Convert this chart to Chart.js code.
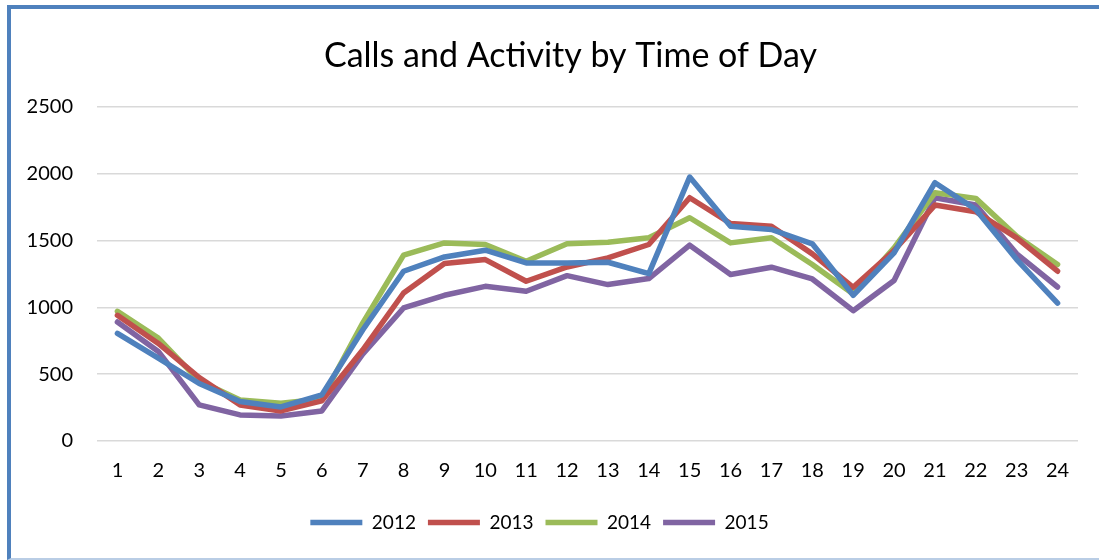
<!DOCTYPE html>
<html>
<head>
<meta charset="utf-8">
<script src="https://cdn.jsdelivr.net/npm/chart.js@4.4.1/dist/chart.umd.min.js"></script>
<style>
	html, body { margin: 0; padding: 0; background: #fff; }
	#wrap { position: relative; width: 1099px; height: 560px; overflow: hidden; }
	#frame {
		position: absolute; left: 7px; top: 5px; width: 1100px; height: 549px;
		border-left: 4px solid #4f81bd; border-top: 4px solid #4f81bd;
		border-bottom: 2px solid #b9cde5; pointer-events: none;
	}
	canvas { position: absolute; left: 0; top: 0; }
</style>
</head>
<body>
<div id="wrap">
	<canvas id="chart" width="1099" height="560"></canvas>
	<div id="frame"></div>
</div>
<script>
const hours = ["1", "2", "3", "4", "5", "6", "7", "8", "9", "10", "11", "12",
	"13", "14", "15", "16", "17", "18", "19", "20", "21", "22", "23", "24"];

const calls2012 = [805, 620, 430, 295, 255, 345, 830, 1270, 1377, 1427, 1332, 1332,
	1337, 1252, 1975, 1607, 1582, 1475, 1090, 1407, 1932, 1732, 1357, 1032];
const calls2013 = [940, 730, 475, 270, 225, 300, 680, 1107, 1327, 1357, 1195, 1302,
	1370, 1470, 1820, 1627, 1607, 1400, 1150, 1425, 1765, 1715, 1520, 1270];
const calls2014 = [970, 770, 450, 307, 282, 315, 882, 1390, 1482, 1470, 1345, 1475,
	1487, 1520, 1670, 1482, 1520, 1320, 1100, 1445, 1857, 1815, 1532, 1320];
const calls2015 = [890, 670, 270, 195, 187, 225, 650, 995, 1090, 1157, 1120, 1237,
	1170, 1215, 1465, 1245, 1300, 1212, 975, 1200, 1820, 1765, 1400, 1152];

const yTicks = [0, 500, 1000, 1500, 2000, 2500];

const seriesNames = ["2012", "2013", "2014", "2015"];
const seriesColors = ["#4f81bd", "#c0504d", "#9bbb59", "#8064a2"];
const seriesData = [calls2012, calls2013, calls2014, calls2015];

const fontFamily = "Lato, 'Noto Sans', sans-serif";

function buildDatasets() {
	return seriesNames.map((name, i) => ({
		label: name,
		data: seriesData[i],
		borderColor: seriesColors[i],
		backgroundColor: seriesColors[i],
		borderWidth: 5.5,
		borderJoinStyle: "round",
		borderCapStyle: "round",
		pointRadius: 0,
		pointHoverRadius: 0,
		tension: 0,
		fill: false
	}));
}

// the title sits a bit right of the middle, the legend a bit left
const nudgeBlocks = {
	id: "nudgeBlocks",
	afterLayout(chart) {
		if (chart.titleBlock) {
			chart.titleBlock.left += 21;
			chart.titleBlock.right += 21;
		}
		if (chart.legend) {
			chart.legend.left -= 10;
			chart.legend.right -= 10;
		}
	}
};

new Chart(document.getElementById("chart"), {
	type: "line",
	data: {
		labels: hours,
		datasets: buildDatasets()
	},
	plugins: [nudgeBlocks],
	options: {
		responsive: false,
		animation: false,
		layout: {
			padding: {left: 21, right: 21, top: 0, bottom: 18}
		},
		plugins: {
			title: {
				display: true,
				text: "Calls and Activity by Time of Day",
				color: "#000",
				font: {family: fontFamily, size: 34, weight: "normal"},
				padding: {top: 36, bottom: 30}
			},
			legend: {
				position: "bottom",
				labels: {
					color: "#000",
					font: {family: fontFamily, size: 19},
					usePointStyle: true,
					pointStyle: "line",
					pointStyleWidth: 52,
					boxWidth: 52,
					boxHeight: 5,
					padding: 12
				}
			},
			tooltip: {enabled: false}
		},
		scales: {
			x: {
				offset: true,
				grid: {display: false, drawTicks: false},
				border: {display: false},
				ticks: {
					color: "#000",
					font: {family: fontFamily, size: 20},
					padding: 18,
					maxRotation: 0,
					autoSkip: false
				}
			},
			y: {
				min: 0,
				max: 2500,
				afterBuildTicks: (scale) => {
					scale.ticks = yTicks.map(v => ({value: v}));
				},
				afterFit: (scale) => {
					scale.width = 76;
				},
				grid: {color: "#d9d9d9", lineWidth: 1.5, drawTicks: false},
				border: {display: false},
				ticks: {
					color: "#000",
					font: {family: fontFamily, size: 20},
					padding: 24,
					callback: (value) => String(value)
				}
			}
		}
	}
});
</script>
</body>
</html>
